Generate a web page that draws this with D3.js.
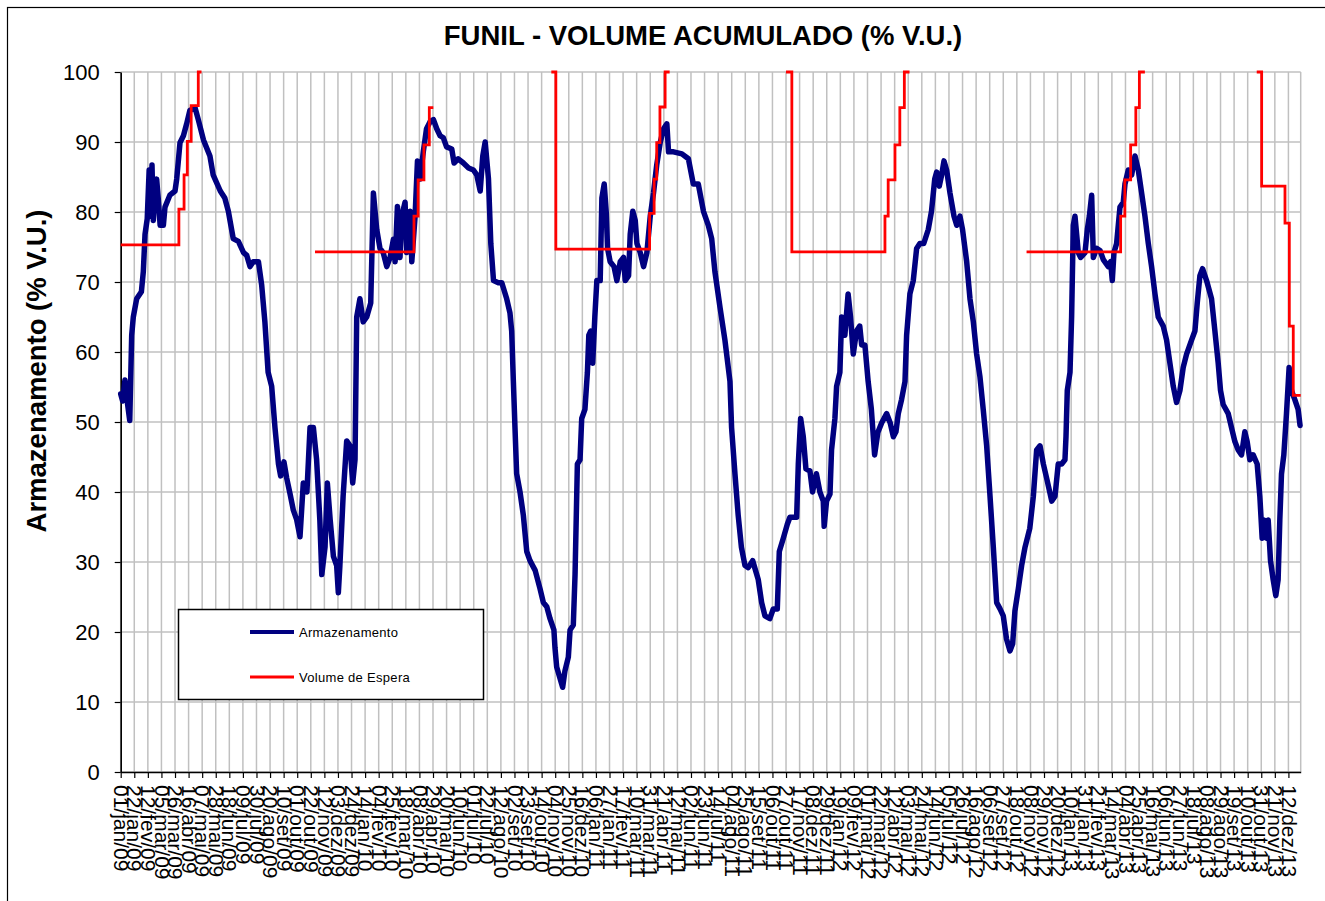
<!DOCTYPE html>
<html>
<head>
<meta charset="utf-8">
<script src="https://cdn.jsdelivr.net/npm/d3@7"></script>
<style>
  body { margin: 0; background: #fff; }
  svg { font-family: "Liberation Sans", Arial, sans-serif; }
</style>
</head>
<body>
<svg id="vis"></svg>
<script>
const svg = d3.select("#vis").attr("width", 1325).attr("height", 901);

// days counted from 01/jan/09
const armDays = [0, 3, 6.6, 10, 14, 17, 19.5, 24.7, 32, 35, 37.6, 41, 44, 46, 48.4, 50.5, 53, 55.6, 58, 61,
    66, 68.5, 76, 84, 86.6, 91.7, 97, 102, 107, 115, 120, 128, 138, 143, 154, 161, 166.5, 174, 182, 190,
    195, 200, 205, 213, 218, 223, 228, 233.5, 238.6, 244, 247.4, 252.5, 256.7, 262, 267, 272, 277.3, 282.4, 288, 292.8,
    298, 303, 308, 311, 316, 319.6, 324, 329, 334, 336.6, 339, 344, 349.5, 354.7, 358.8, 362.4, 365, 370, 375, 380.5,
    386.7, 390.8, 396, 401, 406, 411.5, 416.6, 421.8, 424.4, 428, 432, 434.7, 439.8, 442.4, 447.6, 450.2, 455.3, 459, 463, 468,
    473, 478.5, 483.7, 488.8, 494, 499, 504, 512, 515.6, 522, 530, 538, 545.5, 550.7, 556, 560, 563.7, 568.8, 572.4, 576.6,
    584, 589.4, 597, 602, 604.7, 607.3, 609.8, 612.4, 617.6, 622.7, 628, 633, 641, 648.5, 653.7, 659, 664, 670, 671.7, 674.3,
    679.4, 683.5, 687, 692.3, 695, 700, 702.7, 706.3, 710.4, 713, 718, 721.8, 724, 727, 730, 733.3, 736.4, 741.6, 744.2, 747.8,
    750.9, 753, 757, 763, 767.4, 772.6, 777.7, 780.3, 785.5, 788, 792, 795.8, 798.4, 803.5, 808.7, 813.8, 819, 824, 829, 834.4,
    839.6, 844.7, 847.3, 855, 868, 878, 885.6, 893.3, 901.3, 908.8, 914, 919, 927, 934.5, 942.3, 944.8, 950, 955, 960, 965.5,
    970.6, 977.4, 986, 991.3, 996.4, 1004, 1009.3, 1015.5, 1018.6, 1024.8, 1031, 1035, 1045.4, 1048, 1051.6, 1055.7, 1059.8, 1066, 1070, 1076,
    1081.4, 1086.6, 1088, 1091.7, 1097, 1099.4, 1104.6, 1107.2, 1112.3, 1115, 1120, 1125, 1128.8, 1133, 1138, 1143, 1146, 1151, 1156, 1161,
    1166, 1171, 1177, 1184.6, 1190, 1195, 1199, 1202.6, 1207.7, 1213, 1215.5, 1220.6, 1225.8, 1231, 1236, 1242, 1249, 1254, 1259, 1262,
    1266, 1269.7, 1273.3, 1277.4, 1282.6, 1288.8, 1293, 1298, 1302, 1308.4, 1313.5, 1318.7, 1323.8, 1329, 1334, 1339.3, 1344.5, 1349.6, 1354.8, 1360,
    1365, 1370, 1375.4, 1379.5, 1383, 1388.3, 1393.4, 1398.6, 1406, 1411.5, 1416.6, 1421.8, 1427, 1432, 1440, 1445, 1450, 1455.3, 1460.4, 1462,
    1464, 1468.2, 1470.7, 1473.3, 1475.9, 1478.5, 1481, 1484.7, 1491.4, 1495, 1498.1, 1501.7, 1504.3, 1509.4, 1514.6, 1519.7, 1527.4, 1531, 1533.6, 1536.2,
    1540.3, 1545.5, 1550.6, 1553.2, 1558.4, 1563.5, 1568.7, 1573.8, 1579, 1584.1, 1589.3, 1594.4, 1599.6, 1604.7, 1612.4, 1617.6, 1622.7, 1627.9, 1633, 1638.2,
    1643.3, 1648.5, 1656.2, 1661.4, 1665, 1669.1, 1673.2, 1679.4, 1687.1, 1692.3, 1697.4, 1701, 1705.1, 1712.9, 1718, 1723.2, 1728.3, 1733.5, 1738.6, 1742.2,
    1746.4, 1751.5, 1757.7, 1761.8, 1765.4, 1768, 1772.1, 1774.7, 1778.3, 1782.4, 1786.5, 1790.1, 1792.7, 1795.3, 1798.9, 1803, 1807.1, 1810.7, 1815.9, 1821,
    1824];
const armValues = [54, 53, 56, 53, 50.2, 62.4, 65, 67.6, 68.6, 71.5, 76.8, 79, 86, 79.4, 86.7, 78.8, 83.4, 84.7, 82, 78.1,
    78.1, 80.7, 82.4, 83, 84.7, 89.9, 90.9, 92.6, 94.5, 94.9, 93.2, 90.3, 88, 85.3, 83, 82, 80.1, 76.2, 75.8, 74.2,
    73.8, 72.2, 72.9, 72.9, 69.6, 64.3, 57.1, 55.1, 49.2, 44, 42.3, 44.3, 42, 39.7, 37.4, 36.1, 33.6, 41.3, 40, 49.2,
    49.2, 44.6, 36, 28.2, 32.1, 41.3, 36, 30.8, 29.5, 25.6, 29.5, 39.4, 47.3, 46.6, 41.3, 44.6, 65, 67.6, 64.3, 65,
    67, 82.7, 77.5, 74.8, 74.2, 72.2, 73.5, 76.1, 72.9, 80.8, 73.5, 79.4, 81.4, 74.2, 80.1, 72.9, 79.4, 87.3, 84.7, 88.6,
    91.9, 92.9, 93.2, 91.9, 90.9, 90.6, 89.3, 89, 87, 87.6, 87, 86.3, 86, 85.3, 83, 88, 90, 84.7, 75.5, 70.2,
    69.9, 69.9, 67.6, 65.6, 63, 55.8, 49.2, 42.6, 40, 36.7, 31.5, 30.2, 28.8, 26.2, 24.2, 23.6, 21.9, 20.3, 17.7, 15,
    13.4, 12.1, 14.4, 16.4, 20.3, 21, 28.2, 44, 44.6, 50.5, 51.8, 57.1, 62.4, 63, 58.4, 65, 70.2, 70.2, 82, 84,
    80, 74.8, 72.9, 72.2, 70.2, 72.9, 73.5, 70.2, 70.9, 76.8, 80.1, 78.8, 75.5, 74.2, 72.2, 74.2, 79.4, 82.7, 86.7, 89.9,
    91.9, 92.6, 88.6, 88.6, 88.3, 87.6, 84, 84, 80.1, 78.1, 76.2, 71.5, 66.3, 61.7, 55.8, 49.2, 42.6, 36.7, 32.1, 29.5,
    29.2, 30.2, 27.5, 24.2, 22.3, 21.9, 23.3, 23.3, 31.5, 33.4, 35.4, 36.4, 36.4, 44, 50.5, 47.9, 43.3, 43, 40, 42.6,
    40, 38.7, 35.1, 38.7, 39.7, 46, 50.5, 55.1, 57.1, 65, 62.4, 68.3, 65, 59.7, 63, 63.7, 61, 61, 55.8, 51.8,
    45.3, 48.5, 49.9, 51.2, 49.9, 47.9, 48.6, 51.2, 53.2, 55.8, 62.4, 68.3, 70.2, 74.8, 75.5, 75.5, 77.5, 80.1, 84.7, 85.7,
    83.7, 85.3, 87.3, 86, 82.7, 79.4, 78.1, 79.4, 77.5, 72.9, 67.6, 64.3, 59.7, 56.4, 51.8, 46.6, 39.4, 32.1, 24.2, 23.3,
    22.3, 19, 17.3, 18.3, 23, 26.2, 29.5, 32.1, 34.8, 39.4, 46, 46.6, 44, 42, 38.7, 39.4, 44, 44, 44.6, 47.9,
    54.5, 57.1, 65, 78.1, 79.4, 76.8, 74.2, 73.5, 74.2, 77.5, 79.4, 82.4, 73.5, 74.8, 74.5, 73.2, 72.2, 72.9, 70.2, 74.2,
    75.5, 80.7, 81.4, 84, 86, 85.3, 88, 86, 82.7, 79.4, 75.5, 72.2, 68.3, 65, 63.7, 61.7, 58.4, 55.1, 52.8, 54.5,
    57.8, 59.7, 61.7, 63, 67, 70.9, 71.9, 70.2, 67.6, 63, 58.4, 54.5, 52.5, 51.2, 49.2, 47.2, 46, 45.3, 48.6, 47.2,
    44.6, 45.3, 44, 39.4, 33.4, 36, 33.4, 36, 30.2, 27.5, 25.2, 27.5, 36, 42.6, 45.3, 51.2, 57.8, 54.5, 53.2, 51.8,
    49.5];

// null = no flood-control volume in that period
const esperaDays = [0, 90, 98, 103, 109, 120, 125, 126,
    300.5, 453.6, 460, 469, 477.3, 483.5, 484,
    666, 673, 818, 825, 829, 834, 842, 849, 850,
    1029, 1038, 1182, 1187, 1197.5, 1205, 1212, 1220, 1221,
    1401, 1546.5, 1553, 1562, 1570, 1575.5, 1584, 1585,
    1757, 1764.6, 1800.7, 1807.4, 1813.5, 1825];
const esperaValues = [75.3, 80.4, 85.3, 90.1, 95.2, 100, 100, null,
    74.3, 79.4, 84.6, 89.6, 94.9, 94.9, null,
    100, 74.7, 79.8, 84.7, 89.9, 95, 100, 100, null,
    100, 74.3, 79.4, 84.6, 89.6, 94.9, 100, 100, null,
    74.3, 79.4, 84.6, 89.6, 94.9, 100, 100, null,
    100, 83.7, 78.4, 63.7, 53.8, 53.8];

const yTicks = [0, 10, 20, 30, 40, 50, 60, 70, 80, 90, 100];
const meses = ["jan", "fev", "mar", "abr", "mai", "jun", "jul", "ago", "set", "out", "nov", "dez"];

const start = new Date(Date.UTC(2009, 0, 1));
const xTicks = d3.range(0, 1807, 21).map(d => d3.utcDay.offset(start, d));

const X0 = 120.7, X1 = 1300.7, Y0 = 772, Y1 = 72;

let xscale = d3.scaleUtc()
    .domain([start, d3.utcDay.offset(start, 1825)])
    .range([X0, X1]);

let yscale = d3.scaleLinear()
    .domain([0, 100])
    .range([Y0, Y1]);

function fmtDate(d) {
    return d3.utcFormat("%d")(d) + "/" + meses[d.getUTCMonth()] + "/" + d3.utcFormat("%y")(d);
}

function dayX(day) {
    return xscale(new Date(start.getTime() + day * 86400000));
}

function main() {
    // outer chart frame
    svg.append("rect")
        .attr("x", 7.5).attr("y", 7.5)
        .attr("width", 1330).attr("height", 910)
        .attr("fill", "#fff")
        .attr("stroke", "#000").attr("stroke-width", 1.2);

    drawGrid();
    drawAxes();

    const arm = armDays.map((d, i) => ({day: d, v: armValues[i]}));
    const esp = esperaDays.map((d, i) => ({day: d, v: esperaValues[i]}));

    const armLine = d3.line()
        .x(d => dayX(d.day))
        .y(d => yscale(d.v));

    const espLine = d3.line()
        .defined(d => d.v !== null)
        .curve(d3.curveStepAfter)
        .x(d => dayX(d.day))
        .y(d => yscale(d.v));

    svg.append("path")
        .datum(arm)
        .attr("d", armLine)
        .attr("fill", "none")
        .attr("stroke", "#000080")
        .attr("stroke-width", 5.5)
        .attr("stroke-linejoin", "round")
        .attr("stroke-linecap", "round");

    svg.append("path")
        .datum(esp)
        .attr("d", espLine)
        .attr("fill", "none")
        .attr("stroke", "#ff0000")
        .attr("stroke-width", 2.8);

    drawTitles();
    drawLegend();
}

function drawGrid() {
    const g = svg.append("g").attr("class", "grid");
    g.selectAll(".vgrid").data(xTicks).join("line")
        .attr("class", "vgrid")
        .attr("x1", d => xscale(d)).attr("x2", d => xscale(d))
        .attr("y1", Y1).attr("y2", Y0)
        .attr("stroke", "#c0c0c0").attr("stroke-width", 1.5);
    g.selectAll(".hgrid").data(yTicks).join("line")
        .attr("class", "hgrid")
        .attr("x1", X0).attr("x2", X1)
        .attr("y1", d => yscale(d)).attr("y2", d => yscale(d))
        .attr("stroke", "#c0c0c0").attr("stroke-width", 1.5);
    g.append("line")
        .attr("x1", X1).attr("x2", X1).attr("y1", Y1).attr("y2", Y0)
        .attr("stroke", "#c0c0c0").attr("stroke-width", 1.5);
}

function drawAxes() {
    const xAxis = svg.append("g")
        .attr("transform", `translate(0,${Y0})`)
        .call(d3.axisBottom(xscale).tickValues(xTicks).tickFormat(fmtDate).tickSize(6).tickSizeOuter(0));
    xAxis.select(".domain").attr("stroke-width", 1.6);
    xAxis.selectAll(".tick line").attr("stroke-width", 1.2);
    xAxis.selectAll(".tick text")
        .attr("font-size", 21)
        .attr("fill", "#000")
        .attr("text-anchor", "start")
        .attr("transform", "translate(0,13) rotate(90)")
        .attr("x", 0).attr("y", 0)
        .attr("dy", "0.35em");

    const yAxis = svg.append("g")
        .attr("transform", `translate(${X0},0)`)
        .call(d3.axisLeft(yscale).tickValues(yTicks).tickSize(6).tickSizeOuter(0));
    yAxis.select(".domain").attr("stroke-width", 1.6);
    yAxis.selectAll(".tick line").attr("stroke-width", 1.2);
    yAxis.selectAll(".tick text")
        .attr("font-size", 22)
        .attr("fill", "#000")
        .attr("x", -21);
}

function drawTitles() {
    svg.append("text")
        .attr("x", 703).attr("y", 45)
        .attr("text-anchor", "middle")
        .attr("font-size", 27.5).attr("font-weight", "bold")
        .text("FUNIL - VOLUME ACUMULADO (% V.U.)");

    svg.append("text")
        .attr("transform", "translate(46,371) rotate(-90)")
        .attr("text-anchor", "middle")
        .attr("font-size", 27.5).attr("font-weight", "bold")
        .text("Armazenamento (% V.U.)");
}

function drawLegend() {
    const lg = svg.append("g");
    lg.append("rect")
        .attr("x", 178.5).attr("y", 609.5)
        .attr("width", 305).attr("height", 90)
        .attr("fill", "#fff").attr("stroke", "#000").attr("stroke-width", 1.5);
    const items = [
        {label: "Armazenamento", color: "#000080", w: 4, y: 632},
        {label: "Volume de Espera", color: "#ff0000", w: 3, y: 677}
    ];
    items.forEach(it => {
        lg.append("line")
            .attr("x1", 250).attr("x2", 294)
            .attr("y1", it.y).attr("y2", it.y)
            .attr("stroke", it.color).attr("stroke-width", it.w);
        lg.append("text")
            .attr("x", 299).attr("y", it.y)
            .attr("dy", "0.35em")
            .attr("font-size", 13)
            .attr("letter-spacing", 0.3)
            .text(it.label);
    });
}

main();
</script>
</body>
</html>
